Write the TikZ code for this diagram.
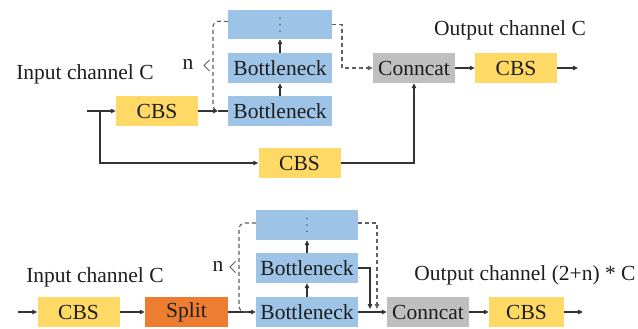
\documentclass[tikz,border=0pt]{standalone}
\usepackage{fontspec}
\setmainfont{Liberation Serif}
\newfontfamily\diagramfont{Liberation Serif}
\usetikzlibrary{arrows.meta}
\definecolor{cbsyellow}{HTML}{FFD966}
\definecolor{bnblue}{HTML}{9DC3E6}
\definecolor{catgray}{HTML}{BFBFBF}
\definecolor{splitorange}{HTML}{ED7D31}
\definecolor{linegray}{HTML}{333333}
\definecolor{dashgray}{HTML}{606060}
\definecolor{textdark}{HTML}{1E1E1E}

\begin{document}
\begin{tikzpicture}[x=1pt,y=-1pt,
  font=\diagramfont\fontsize{21.5}{24}\selectfont,
  blk/.style={minimum height=30pt, inner sep=0pt, text=textdark},
  cbs/.style={blk, fill=cbsyellow, minimum width=82pt},
  bn/.style={blk, fill=bnblue, minimum width=104pt},
  cat/.style={blk, fill=catgray, minimum width=82pt},
  splitbox/.style={blk, fill=splitorange, minimum width=83pt},
  lbl/.style={inner sep=0pt, text=textdark},
  tip/.style={-{Triangle[length=5pt,width=4.5pt]}},
  flow/.style={draw=linegray, line width=1.1pt, tip},
  wire/.style={draw=linegray, line width=1.1pt},
  dashwire/.style={draw=dashgray, line width=1.1pt, dash pattern=on 4pt off 3pt},
  dot/.style={fill=dashgray},
]
\useasboundingbox (0,0) rectangle (638,329);

% ---------------- C3 module ----------------
\node[lbl] (inlab1) at (85,74) {Input channel C};
\node[lbl] (outlab1) at (510,30) {Output channel C};
\node[cbs] (cbs1) at (157,111) {CBS};
\node[bn]  (bn1)  at (280,111) {Bottleneck};
\node[bn]  (bn2)  at (280,68)  {Bottleneck};
\node[bn, minimum height=29pt] (dots1) at (280,24.5) {};
\node[cat] (cc1)  at (414,68)  {Conncat};
\node[cbs] (cbs2) at (516,68)  {CBS};
\node[cbs] (cbs3) at (299.5,163) {CBS};
\node[lbl] (n1) at (188,64) {n};

\coordinate (in1)  at (87,111);
\coordinate (br1)  at (100,111);
\coordinate (j1)   at (218,111);
\coordinate (out1) at (578,68);

\foreach \dy in {-6.5,0,6.5}
  \fill[dot] ([yshift=\dy pt]dots1.center) circle (0.9pt);

\draw[flow] (in1) -- (cbs1.west);
\draw[flow] (br1) |- (cbs3.west);
\draw[flow] (cbs1.east) -- (j1);
\draw[wire] (j1) -- (bn1.west);
\draw[flow] (bn1.north) -- (bn2.south);
\draw[flow] (bn2.north) -- (dots1.south);
\draw[flow] (cbs3.east) -| (cc1.south);
\draw[flow] (cc1.east) -- (cbs2.west);
\draw[flow] (cbs2.east) -- (out1);
% repeated-block brace
\draw[dashwire, rounded corners=6pt] ([yshift=3pt]dots1.west) -- (213,21) -- (213,111) -- (j1);
\draw[dashgray, line width=1pt] (209.5,60) -- (204,65.5) -- (209.5,71);
% output of the last block
\draw[dashwire, tip] (dots1.east) -- (342,24.5) |- (cc1.west);

% ---------------- C2f module ----------------
\node[lbl] (inlab2) at (95,277) {Input channel C};
\node[lbl] (outlab2) at (525,275) {Output channel (2+n) * C};
\node[cbs] (cbs4) at (78.5,312) {CBS};
\node[splitbox] (split) at (186.5,312) {Split};
\node[bn, minimum width=102pt] (bn4) at (307,312) {Bottleneck};
\node[bn, minimum width=102pt] (bn3) at (307,268) {Bottleneck};
\node[bn, minimum width=102pt] (dots2) at (307,225) {};
\node[cat] (cc2) at (428,312) {Conncat};
\node[cbs, minimum width=75pt] (cbs5) at (526.5,312) {CBS};
\node[lbl] (n2) at (218,266) {n};

\coordinate (in2)  at (18,312);
\coordinate (out2) at (583,312);
\coordinate (m1)   at (370,309);
\coordinate (m2)   at (377,309);

\foreach \dy in {-6.5,0,6.5}
  \fill[dot] ([yshift=\dy pt]dots2.center) circle (0.9pt);

\draw[flow] (in2) -- (cbs4.west);
\draw[flow] (cbs4.east) -- (split.west);
\draw[flow] (split.east) -- (bn4.west);
\draw[flow] (bn4.north) -- (bn3.south);
\draw[flow] (bn3.north) -- (dots2.south);
\draw[flow] (bn4.east) -- (cc2.west);
\draw[flow] (bn3.east) -| (m1);
\draw[dashwire, tip] ([yshift=2pt]dots2.east) -| (m2);
\draw[flow] (cc2.east) -- (cbs5.west);
\draw[flow] (cbs5.east) -- (out2);
% repeated-block brace
\draw[dashwire, rounded corners=6pt] ([yshift=2pt]dots2.west) -- (239,223) -- (239,312) -- (250,312);
\draw[dashgray, line width=1pt] (235.5,261.5) -- (230,267) -- (235.5,272.5);
\end{tikzpicture}
\end{document}
